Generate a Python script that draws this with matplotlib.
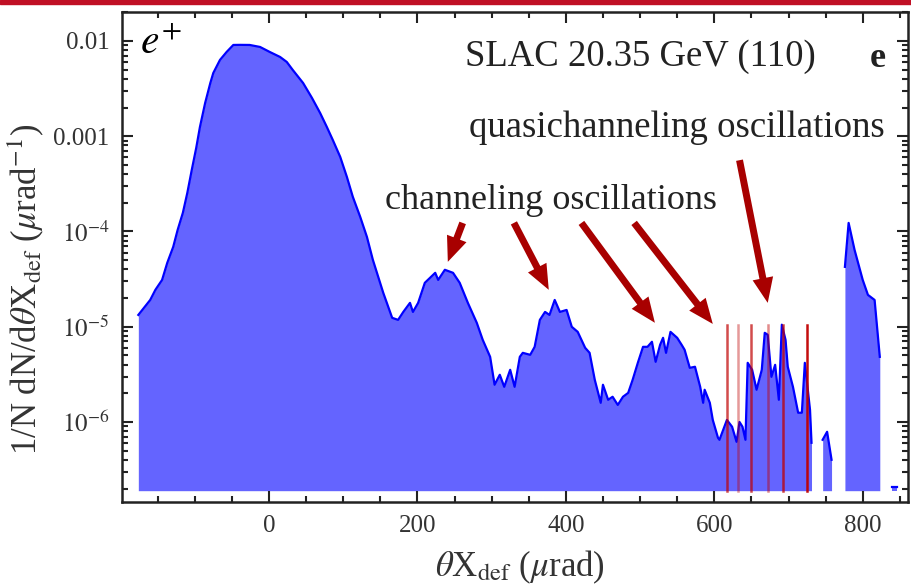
import numpy as np
import matplotlib
matplotlib.use("Agg")
import matplotlib.pyplot as plt
from matplotlib.patches import Rectangle
from matplotlib.ticker import MultipleLocator, LogLocator, NullFormatter

plt.rcParams['font.family'] = ['Liberation Serif', 'DejaVu Serif']
plt.rcParams['mathtext.fontset'] = 'stix'

# angle (urad) and distribution value for the main piece of the histogram
x_main = [-176, -160, -153, -144, -137, -129, -123, -116, -110, -104, -98, -93, -86, -79,
          -75, -66, -57, -48, -39, -26, -12, 1, 15, 24, 32, 46, 58, 69, 78, 86, 96, 105,
          113, 123, 132, 140, 154, 166, 174, 181, 190, 194, 201, 210, 217, 224, 228, 237, 248,
          257, 268, 280, 288, 298, 304, 311, 317, 325, 331, 338, 342, 352, 358, 365, 372,
          378, 385, 392, 401, 408, 416, 426, 432, 439, 447, 450, 457, 463, 470, 477, 484,
          490, 497, 504, 510, 516, 521, 527, 531, 535, 541, 550, 556, 560, 567, 574, 581,
          585, 587, 594, 598, 605, 607, 617, 624, 630, 634, 638, 642, 645, 651, 657, 664,
          668, 672, 677, 682, 687, 691, 696, 699, 706, 713, 718, 722, 729, 731]
y_main = [1.33e-5, 1.91e-5, 2.44e-5, 3.10e-5, 4.69e-5, 6.89e-5, 1.04e-4, 1.57e-4, 2.54e-4,
          4.43e-4, 7.54e-4, 1.25e-3, 2.23e-3, 3.62e-3, 4.61e-3, 6.32e-3, 7.67e-3, 9.08e-3,
          9.10e-3, 9.08e-3, 8.65e-3, 7.67e-3, 6.79e-3, 6.02e-3, 4.97e-3, 3.62e-3, 2.52e-3,
          1.75e-3, 1.25e-3, 9.14e-4, 6.07e-4, 3.74e-4, 2.31e-4, 1.42e-4, 8.77e-5,
          5.04e-5, 2.27e-5, 1.24e-5, 1.18e-5, 1.43e-5, 1.78e-5, 1.43e-5, 1.78e-5, 2.89e-5,
          3.26e-5, 3.68e-5, 3.10e-5, 3.96e-5, 3.68e-5, 2.89e-5, 1.78e-5, 1.10e-5, 7.29e-6,
          4.83e-6, 2.46e-6, 3.13e-6, 2.34e-6, 3.53e-6, 2.34e-6, 4.83e-6, 5.32e-6, 5.07e-6,
          6.15e-6, 1.18e-5, 1.43e-5, 1.33e-5, 1.91e-5, 1.43e-5, 1.50e-5, 9.98e-6, 8.83e-6,
          6.01e-6, 5.32e-6, 2.77e-6, 1.59e-6, 2.46e-6, 1.71e-6, 1.84e-6, 1.51e-6, 1.84e-6,
          2.02e-6, 2.77e-6, 4.18e-6, 6.15e-6, 6.15e-6, 6.95e-6, 4.28e-6, 6.46e-6, 7.65e-6,
          5.32e-6, 8.83e-6, 7.65e-6, 6.46e-6, 5.73e-6, 3.70e-6, 3.80e-6, 2.34e-6, 1.59e-6,
          2.18e-6, 1.59e-6, 1.05e-6, 6.82e-7, 6.50e-7, 1.05e-6, 8.91e-7, 6.19e-7, 1.00e-6,
          8.91e-7, 6.50e-7, 4.18e-6, 3.53e-6, 2.18e-6, 3.53e-6, 8.63e-6, 8.23e-6, 2.98e-6,
          3.98e-6, 1.71e-6, 1.05e-5, 7.29e-6, 3.80e-6, 2.34e-6, 1.25e-6, 1.25e-6, 4.18e-6,
          1.34e-6, 6.05e-7]

# isolated pieces at large angles
x_piece2 = [746, 752, 758]
y_piece2 = [6.50e-7, 7.89e-7, 4.01e-7]
x_piece3 = [776, 781, 789, 800, 807, 816, 823]
y_piece3 = [4.25e-5, 1.23e-4, 6.41e-5, 3.10e-5, 2.16e-5, 1.91e-5, 4.83e-6]
x_piece4 = [840, 846]
y_piece4 = [2.1e-7, 2.1e-7]

baseline = 1.9e-7

# quasichanneling marker lines: position, alpha
qc_x = [617, 632, 650, 672, 692, 725]
qc_alpha = [0.7, 0.4, 0.7, 0.45, 0.75, 0.95]
qc_top = 1.05e-5

# arrows: (tail x, tail y), (head x, head y)
ch_arrows = [((261, 1.23e-4), (241, 4.8e-5)),
             ((330, 1.23e-4), (377, 2.44e-5)),
             ((421, 1.23e-4), (520, 1.10e-5)),
             ((492, 1.23e-4), (598, 1.07e-5))]
qc_arrow = ((634, 5.6e-4), (672, 1.78e-5))

fill_col = '#6464ff'
line_col = '#0000ff'
arrow_col = '#a80000'
text_col = '#222222'

fig = plt.figure(figsize=(9.12, 5.88), dpi=100)
ax = fig.add_axes([122/912, 1-502/588, (908-122)/912, (502-12)/588])

for xs, ys in [(x_main, y_main), (x_piece2, y_piece2), (x_piece3, y_piece3), (x_piece4, y_piece4)]:
    ax.fill_between(xs, ys, baseline, color=fill_col, linewidth=0)
    ax.plot(xs, ys, color=line_col, lw=1.6, solid_joinstyle='round')

for xv, a in zip(qc_x, qc_alpha):
    ax.plot([xv, xv], [baseline, qc_top], color='#c00000', alpha=a, lw=1.8)

for (t, h) in ch_arrows + [qc_arrow]:
    ax.annotate('', xy=h, xytext=t,
                arrowprops=dict(facecolor=arrow_col, edgecolor='none',
                                width=5, headwidth=15, headlength=18, shrink=0))

ax.set_yscale('log')
ax.set_xlim(-198, 861)
ax.set_ylim(10**-6.84, 10**-1.696)

ax.set_xticks([0, 200, 400, 600, 800])
ax.xaxis.set_minor_locator(MultipleLocator(50))
ax.set_yticks([1e-2, 1e-3, 1e-4, 1e-5, 1e-6])
ax.set_yticklabels(['0.01', '0.001', r'$10^{-4}$', r'$10^{-5}$', r'$10^{-6}$'])
ax.yaxis.set_minor_locator(LogLocator(base=10, subs=np.arange(2, 10)))
ax.yaxis.set_minor_formatter(NullFormatter())

ax.tick_params(which='both', direction='in', top=True, right=True, labelsize=18,
               width=1.5, color=text_col, labelcolor='#333333')
ax.tick_params(which='major', length=8, pad=9)
ax.tick_params(which='minor', length=4)
for s in ax.spines.values():
    s.set_linewidth(1.8)
    s.set_color(text_col)

ax.set_xlabel(r'$\theta$X$_{\rm def}$ ($\mu$rad)', fontsize=25, color='#333333')
ax.xaxis.set_label_coords(0.506, -0.096)
ax.set_ylabel(r'1/N dN/d$\theta$X$_{\rm def}$ ($\mu$rad$^{-1}$)', fontsize=25,
              color='#333333')
ax.yaxis.set_label_coords(-0.097, 0.433)

ax.text(0.023, 0.935, r'$e^{+}$', transform=ax.transAxes, fontsize=30, va='center', ha='left')
ax.text(0.659, 0.908, 'SLAC 20.35 GeV (110)', transform=ax.transAxes, fontsize=26.5,
        ha='center', va='center', color=text_col)
ax.text(0.962, 0.905, 'e', transform=ax.transAxes, fontsize=26, fontweight='bold',
        ha='center', va='center', color=text_col)
ax.text(0.546, 0.616, 'channeling oscillations', transform=ax.transAxes, fontsize=26,
        ha='center', va='center', color=text_col)
ax.text(0.706, 0.763, 'quasichanneling oscillations', transform=ax.transAxes, fontsize=26.5,
        ha='center', va='center', color=text_col)

# red strip along the top edge
fig.patches.append(Rectangle((0, 1-4/588), 1, 4/588, transform=fig.transFigure,
                             color='#c01025', zorder=10))

fig.savefig('out.png', dpi=100)
